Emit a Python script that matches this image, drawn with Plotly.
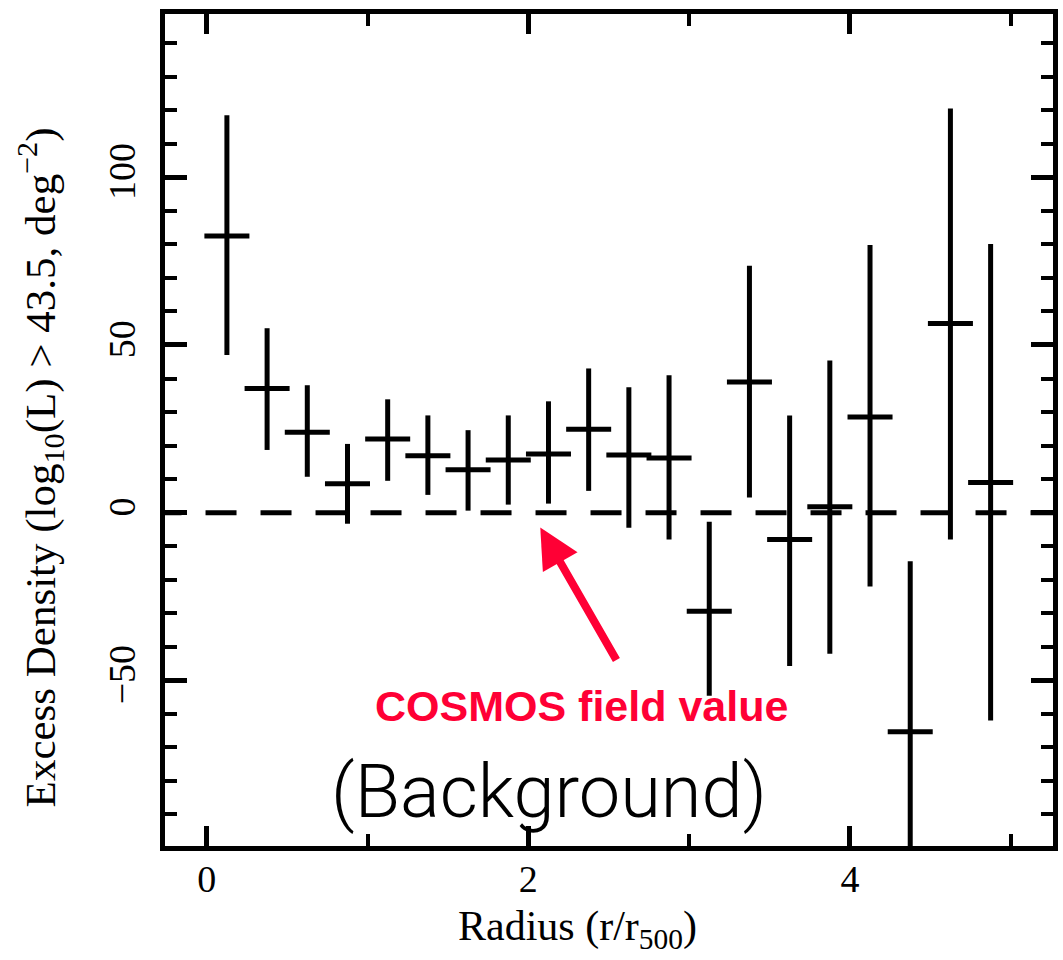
import plotly.graph_objects as go

# Radial bins (r / r500) and measured excess density with its 1-sigma bounds
radius = [0.125, 0.375, 0.625, 0.875, 1.125, 1.375, 1.625, 1.875, 2.125, 2.375,
          2.625, 2.875, 3.125, 3.375, 3.625, 3.875, 4.125, 4.375, 4.625, 4.875]
density = [82.5, 37.0, 24.0, 8.6, 22.0, 17.0, 12.8, 15.7, 17.5, 24.9,
           17.2, 16.3, -29.4, 39.0, -8.0, 1.8, 28.5, -65.3, 56.4, 9.0]
upper = [118.5, 55.0, 38.0, 20.5, 33.8, 29.0, 24.6, 29.0, 33.2, 43.0,
         37.4, 41.0, -2.7, 73.6, 29.0, 45.4, 79.8, -14.5, 120.5, 80.1]
lower = [47.0, 18.7, 10.7, -3.3, 9.5, 5.3, 0.6, 2.4, 2.7, 6.5,
         -4.5, -8.0, -54.6, 4.5, -45.7, -42.1, -22.0, -110.0, -8.0, -62.0]
bin_half_width = 0.14

# Reference level (field value) and axis ticks
field_level = 0.0
x_ticks = [0, 2, 4]
y_ticks = [-50, 0, 50, 100]

err_plus = [u - d for u, d in zip(upper, density)]
err_minus = [d - l for d, l in zip(density, lower)]

RED = "#FF0035"
SERIF = "Liberation Serif, Times New Roman, serif"

fig = go.Figure()

# dashed zero (background) level
fig.add_trace(go.Scatter(
    x=[-0.35, 5.6], y=[field_level, field_level], mode="lines",
    line=dict(color="black", width=5, dash="31px,24px"),
    hoverinfo="skip", showlegend=False,
))

# binned measurements drawn as error crosses
fig.add_trace(go.Scatter(
    x=radius, y=density, mode="markers",
    marker=dict(size=1, color="black"),
    error_x=dict(type="constant", value=bin_half_width, color="black",
                 thickness=5, width=0),
    error_y=dict(type="data", array=err_plus, arrayminus=err_minus,
                 symmetric=False, color="black", thickness=5, width=0),
    showlegend=False,
))

axis_common = dict(
    showline=True, linecolor="black", linewidth=5, mirror="allticks",
    ticks="inside", tickcolor="black", tickwidth=5,
    showgrid=False, zeroline=False,
    tickfont=dict(family=SERIF, size=38, color="black"),
)

fig.update_xaxes(
    range=[-0.26, 5.263], tickmode="array", tickvals=x_ticks,
    ticklen=20,
    minor=dict(dtick=1, tick0=0, ticks="inside", ticklen=12, tickwidth=4,
               tickcolor="black", showgrid=False),
    ticklabelstandoff=-5,
    **axis_common,
)
fig.update_yaxes(
    range=[-99.4, 148.7], tickmode="array", tickvals=y_ticks,
    ticklen=22, tickangle=-90,
    minor=dict(dtick=10, tick0=0, ticks="inside", ticklen=12, tickwidth=4,
               tickcolor="black", showgrid=False),
    ticklabelstandoff=10,
    **axis_common,
)

annotations = [
    # axis titles
    dict(text="Radius (r/r<sub>500</sub>)", xref="paper", yref="paper",
         x=(577 - 163) / 892, y=-(931 - 848) / 836, showarrow=False,
         xanchor="center", yanchor="middle",
         font=dict(family=SERIF, size=42, color="black")),
    dict(text="Excess Density (log<sub>10</sub>(L) &gt; 43.5, deg<sup>\u22122</sup>)",
         xref="paper", yref="paper", textangle=-90,
         x=-(163 - 38) / 892, y=(848 - 468) / 836, showarrow=False,
         xanchor="center", yanchor="middle",
         font=dict(family=SERIF, size=43, color="black")),
    # arrow pointing to the field level
    dict(text="", x=2.074, y=-4.4, xref="x", yref="y",
         showarrow=True, arrowhead=2, arrowsize=1, arrowwidth=8,
         arrowcolor=RED, ax=77, ay=134, standoff=0),
    dict(text="<b>COSMOS field value</b>", x=2.33, y=-57.6, xref="x", yref="y",
         showarrow=False, xanchor="center", yanchor="middle",
         font=dict(family="Liberation Sans, Arial, sans-serif", size=43, color=RED)),
    dict(text="(Background)", x=2.13, y=-83.1, xref="x", yref="y",
         showarrow=False, xanchor="center", yanchor="middle",
         font=dict(family="Roboto, Liberation Sans, sans-serif", size=74,
                   color="black", weight=300)),
]

fig.update_layout(
    width=1063, height=960,
    margin=dict(l=165, r=10, t=14, b=114, autoexpand=False),
    paper_bgcolor="white", plot_bgcolor="white",
    annotations=annotations,
    showlegend=False,
)

fig.write_html("out.html")
